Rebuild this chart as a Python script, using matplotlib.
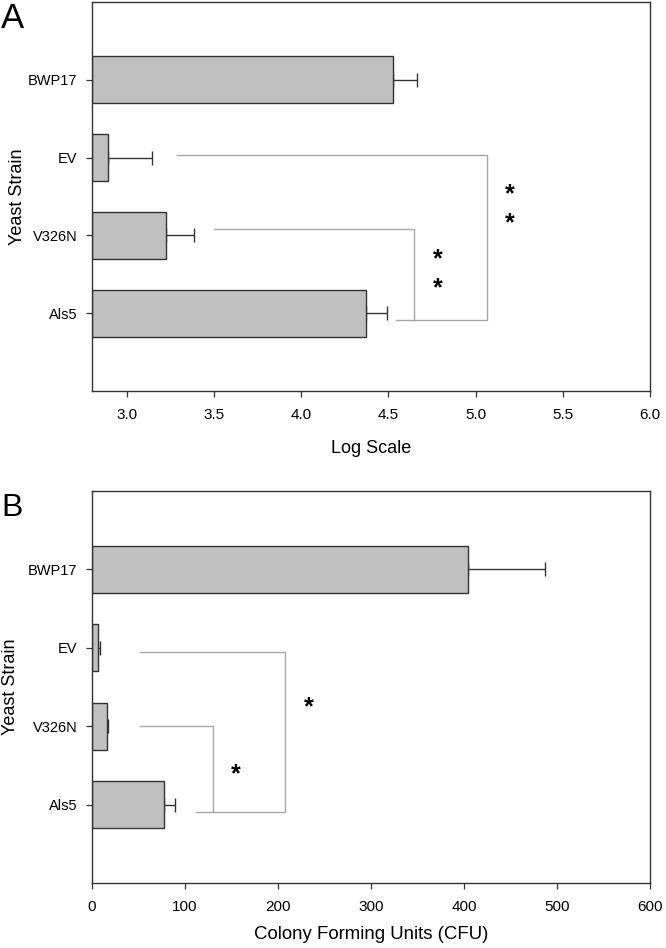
import matplotlib
matplotlib.use("Agg")
import matplotlib.pyplot as plt

plt.rcParams['font.family'] = ['Liberation Sans', 'DejaVu Sans']

# data (bottom to top)
strains = ['Als5', 'V326N', 'EV', 'BWP17']
log_means = [4.37, 3.225, 2.89, 4.525]
log_err = [0.12, 0.162, 0.257, 0.137]
cfu_means = [78, 16, 6.5, 404]
cfu_err = [11.5, 1.5, 1.8, 83.5]

bar_color = '#c0c0c0'
edge = '#333333'
brk = '#a8a8a8'

fig = plt.figure(figsize=(6.66, 9.48), dpi=100)
axA = fig.add_axes([0.138, 0.5876, 0.838, 0.4103])
axB = fig.add_axes([0.138, 0.0686, 0.838, 0.4135])

pos = [1, 2, 3, 4]


def draw_bars(ax, means, err, x0, ypad):
    widths = [m - x0 for m in means]
    ax.barh(pos, widths, left=x0, height=0.6, color=bar_color,
            edgecolor=edge, linewidth=1.0, zorder=2)
    ax.errorbar(means, pos, xerr=[[0] * len(err), err], fmt='none',
                ecolor=edge, elinewidth=1.0, capsize=4.7, capthick=1.0, zorder=1)
    ax.set_ylim(0, 5)
    ax.set_yticks(pos)
    ax.set_yticklabels(strains, fontsize=10.5)
    ax.set_ylabel('Yeast Strain', fontsize=13, labelpad=ypad)
    ax.tick_params(direction='out', length=4.5, width=0.9, color=edge, pad=6)
    ax.tick_params(axis='x', labelsize=11, pad=7.5)
    for s in ax.spines.values():
        s.set_color(edge)
        s.set_linewidth(1.0)


def star(ax, x, y):
    # asterisk glyph sits high in the line box, nudge it down a little
    ax.annotate('*', (x, y), xytext=(0, -5), textcoords='offset pixels',
                fontsize=18, fontweight='bold', ha='center', va='center')


# panel A
draw_bars(axA, log_means, log_err, 2.8, 1.5)
axA.set_xlim(2.8, 6.0)
axA.set_xticks([3.0, 3.5, 4.0, 4.5, 5.0, 5.5, 6.0])
axA.set_xticklabels(['3.0', '3.5', '4.0', '4.5', '5.0', '5.5', '6.0'])
axA.set_xlabel('Log Scale', fontsize=13, labelpad=13)

axA.plot([3.29, 5.065, 5.065, 4.544], [3.03, 3.03, 0.91, 0.91], color=brk, lw=1.0)
axA.plot([3.50, 4.649, 4.649], [2.08, 2.08, 0.91], color=brk, lw=1.0)
for x, y in [(5.198, 2.596), (5.198, 2.22), (4.782, 1.757), (4.782, 1.379)]:
    star(axA, x, y)

# panel B
draw_bars(axB, cfu_means, cfu_err, 0, 6)
axB.set_xlim(0, 600)
axB.set_xticks([0, 100, 200, 300, 400, 500, 600])
axB.set_xlabel('Colony Forming Units (CFU)', fontsize=13.4, labelpad=9)

axB.plot([52, 208, 208, 111.4], [2.94, 2.94, 0.91, 0.91], color=brk, lw=1.0)
axB.plot([52, 130.3, 130.3], [2.006, 2.006, 0.91], color=brk, lw=1.0)
for x, y in [(233.3, 2.30), (154.7, 1.454)]:
    star(axB, x, y)

fig.text(0.002, 0.998, 'A', fontsize=25, ha='left', va='top')
fig.text(0.002, 0.480, 'B', fontsize=23, ha='left', va='top')

fig.savefig('out.png', dpi=100)
